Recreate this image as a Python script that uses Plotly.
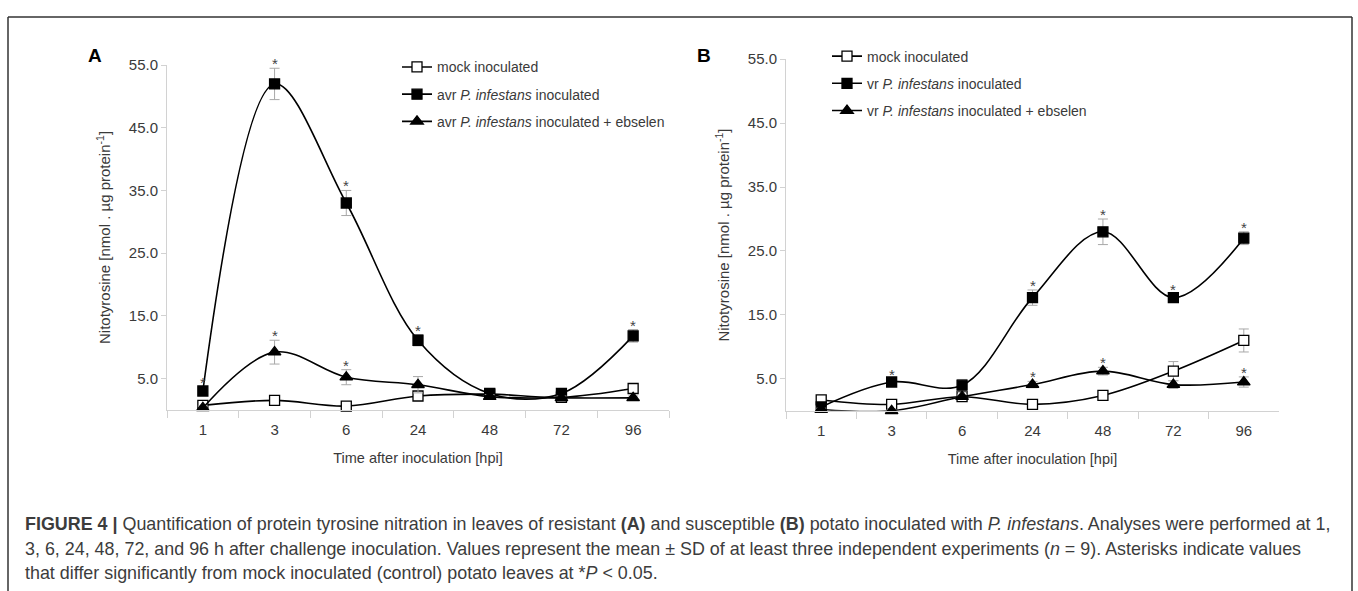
import plotly.graph_objects as go

W, H = 1358, 591

hpi = ["1", "3", "6", "24", "48", "72", "96"]

# Panel A (resistant)
mock_A = [0.7, 1.5, 0.6, 2.2, 2.5, 2.0, 3.4]
mock_A_sd = [0.4, 0.3, 0.3, 0.5, 0.3, 0.3, 0.6]
avr_A = [3.0, 52.0, 33.0, 11.1, 2.6, 2.6, 11.8]
avr_A_sd = [0.6, 2.5, 2.0, 0.9, 0.4, 0.4, 1.0]
ebs_A = [0.3, 9.2, 5.2, 4.0, 2.1, 1.9, 1.9]
ebs_A_sd = [0.3, 1.9, 1.2, 1.3, 0.3, 0.3, 0.3]
sig_avr_A = ["1", "3", "6", "24", "96"]
sig_ebs_A = ["3", "6"]

# Panel B (susceptible)
mock_B = [1.7, 1.0, 2.2, 1.0, 2.4, 6.2, 11.0]
mock_B_sd = [0.3, 0.3, 0.4, 0.3, 0.3, 1.5, 1.8]
vr_B = [0.6, 4.5, 4.0, 17.7, 28.0, 17.7, 27.0]
vr_B_sd = [0.3, 0.5, 0.9, 1.2, 2.0, 0.6, 1.0]
ebs_B = [0.2, 0.0, 2.2, 4.1, 6.2, 4.1, 4.5]
ebs_B_sd = [0.2, 0.2, 0.3, 0.5, 0.6, 0.6, 0.8]
sig_vr_B = ["3", "24", "48", "72", "96"]
sig_ebs_B = ["24", "48", "96"]

names_A = ["mock inoculated", "avr <i>P. infestans</i> inoculated",
           "avr <i>P. infestans</i> inoculated + ebselen"]
names_B = ["mock inoculated", "vr <i>P. infestans</i> inoculated",
           "vr <i>P. infestans</i> inoculated + ebselen"]

FONT = "Liberation Sans, Arial, Helvetica, sans-serif"
TXT = "#3a3a3a"
AX = "#d2d2d2"

fig = go.Figure()

def add_series(name, y, sd, symbol, fill, size, xa, ya, legend, group):
    fig.add_trace(go.Scatter(
        x=hpi, y=y, name=name, mode="lines+markers",
        line=dict(color="black", width=1.6, shape="spline", smoothing=1.0),
        marker=dict(symbol=symbol, size=size, color=fill,
                    line=dict(color="black", width=1.3)),
        error_y=dict(type="data", array=sd, color="#a8a8a8", thickness=1, width=5),
        xaxis=xa, yaxis=ya, legend=legend, legendgroup=group,
        cliponaxis=False, hoverinfo="x+y+name"))

add_series(names_A[0], mock_A, mock_A_sd, "square", "white", 10, "x", "y", "legend", "a1")
add_series(names_A[1], avr_A, avr_A_sd, "square", "black", 10, "x", "y", "legend", "a2")
add_series(names_A[2], ebs_A, ebs_A_sd, "triangle-up", "black", 11, "x", "y", "legend", "a3")
add_series(names_B[0], mock_B, mock_B_sd, "square", "white", 10, "x2", "y2", "legend2", "b1")
add_series(names_B[1], vr_B, vr_B_sd, "square", "black", 10, "x2", "y2", "legend2", "b2")
add_series(names_B[2], ebs_B, ebs_B_sd, "triangle-up", "black", 11, "x2", "y2", "legend2", "b3")

annotations = []

def add_stars(sig, y, sd, xref, yref):
    for lab in sig:
        i = hpi.index(lab)
        annotations.append(dict(x=i, y=y[i] + sd[i], xref=xref, yref=yref,
                                text="*", showarrow=False, yanchor="bottom",
                                yshift=-6, font=dict(size=15, color="#444444", family=FONT)))

add_stars(sig_avr_A, avr_A, avr_A_sd, "x", "y")
add_stars(sig_ebs_A, ebs_A, ebs_A_sd, "x", "y")
add_stars(sig_vr_B, vr_B, vr_B_sd, "x2", "y2")
add_stars(sig_ebs_B, ebs_B, ebs_B_sd, "x2", "y2")

# panel letters
annotations.append(dict(x=86 / W, y=1 - 35 / H, xref="paper", yref="paper", text="<b>A</b>",
                        showarrow=False, font=dict(size=19, color="black", family=FONT)))
annotations.append(dict(x=704 / W, y=1 - 35 / H, xref="paper", yref="paper", text="<b>B</b>",
                        showarrow=False, font=dict(size=19, color="black", family=FONT)))

caption = [
    "<b>FIGURE 4 |</b> Quantification of protein tyrosine nitration in leaves of resistant <b>(A)</b> and "
    "susceptible <b>(B)</b> potato inoculated with <i>P. infestans</i>. Analyses were performed at 1,",
    "3, 6, 24, 48, 72, and 96 h after challenge inoculation. Values represent the mean ± SD of at least "
    "three independent experiments (<i>n</i> = 9). Asterisks indicate values",
    "that differ significantly from mock inoculated (control) potato leaves at *<i>P</i> &lt; 0.05.",
]
cap_y = [523, 548, 573]
for t, yy in zip(caption, cap_y):
    annotations.append(dict(x=23 / W, y=1 - yy / H, xref="paper", yref="paper", text=t,
                            showarrow=False, xanchor="left", yanchor="middle", align="left",
                            font=dict(size=17.9, color="#3c3c3c", family=FONT)))

def xaxis(domain, anchor):
    return dict(domain=domain, anchor=anchor, type="category", categoryorder="array",
                categoryarray=hpi, range=[-0.5, 6.5], showline=True, linecolor=AX,
                linewidth=1, ticks="outside", tickson="boundaries", ticklen=7, tickcolor=AX,
                showgrid=False, zeroline=False, tickfont=dict(size=15, color=TXT, family=FONT),
                ticklabelstandoff=6, tickangle=0,
                title=dict(text="Time after inoculation [hpi]", standoff=16,
                           font=dict(size=14.5, color=TXT, family=FONT)))

def yaxis(domain, anchor):
    return dict(domain=domain, anchor=anchor, range=[0, 55], tickvals=[5, 15, 25, 35, 45, 55],
                tickformat=".1f", showline=True, linecolor=AX, linewidth=1, ticks="outside",
                ticklen=5, tickcolor=AX, showgrid=False, zeroline=False,
                tickfont=dict(size=15, color=TXT, family=FONT),
                title=dict(text="Nitotyrosine [nmol . µg protein<sup>-1</sup>]", standoff=14,
                           font=dict(size=15, color=TXT, family=FONT)))

legend_common = dict(bgcolor="rgba(0,0,0,0)", borderwidth=0, xanchor="left", yanchor="top",
                     tracegroupgap=6, font=dict(size=14, color=TXT, family=FONT))

shapes = [
    dict(type="line", xref="paper", yref="paper", x0=8 / W, x1=1352 / W, y0=1 - 8 / H, y1=1 - 8 / H,
         line=dict(color="#333333", width=1.5)),
    dict(type="line", xref="paper", yref="paper", x0=8 / W, x1=8 / W, y0=-0.1, y1=1 - 8 / H,
         line=dict(color="#333333", width=1.5)),
    dict(type="line", xref="paper", yref="paper", x0=1352 / W, x1=1352 / W, y0=-0.1, y1=1 - 8 / H,
         line=dict(color="#333333", width=1.5)),
]

fig.update_layout(
    width=W, height=H, margin=dict(l=0, r=0, t=0, b=0),
    paper_bgcolor="white", plot_bgcolor="white",
    font=dict(family=FONT, color=TXT),
    xaxis=xaxis([167 / W, 669 / W], "y"),
    yaxis=yaxis([1 - 407 / H, 1 - 57 / H], "x"),
    xaxis2=xaxis([786 / W, 1279 / W], "y2"),
    yaxis2=yaxis([1 - 408 / H, 1 - 51 / H], "x2"),
    legend=dict(x=397 / W, y=1 - 43 / H, **legend_common),
    legend2=dict(x=827 / W, y=1 - 32 / H, **legend_common),
    annotations=annotations, shapes=shapes, showlegend=True,
)

fig.write_html("out.html", config={"displayModeBar": False},
               post_script="document.body.style.margin='0';")
